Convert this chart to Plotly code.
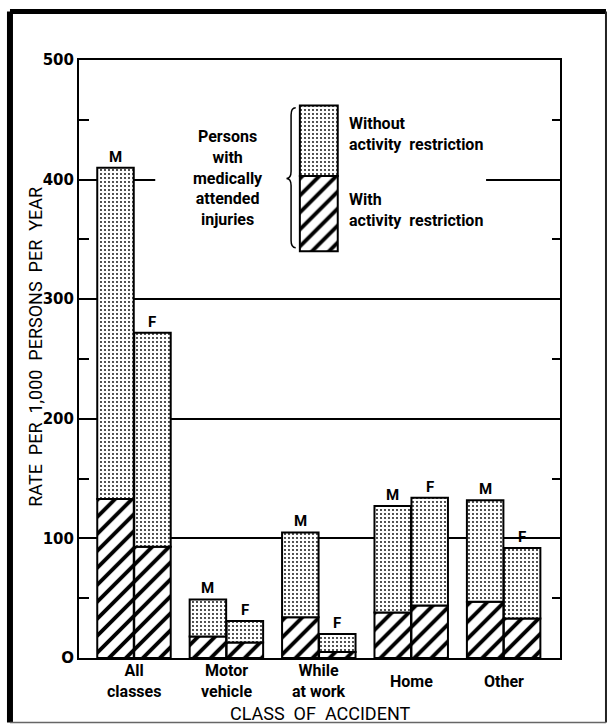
import plotly.graph_objects as go

# ---- data ----
categories = ["All<br>classes", "Motor<br>vehicle", "While<br>at work", "Home", "Other"]
male_total = [410, 49, 105, 127, 132]
male_with = [133, 18, 34, 38, 47]
female_total = [272, 31, 20, 134, 92]
female_with = [93, 13, 5, 44, 33]
sex_labels = ["M", "F"]
y_ticks = [0, 100, 200, 300, 400, 500]
y_tick_text = ["O", "100", "200", "300", "400", "500"]

FONT = "Roboto, Liberation Sans, DejaVu Sans, sans-serif"
BW = 0.395
OFF = 0.2

hatch = dict(shape="/", size=12, solidity=0.32, fgcolor="black", bgcolor="white", fillmode="replace")
dots = dict(shape=".", size=4, solidity=0.16, fgcolor="black", bgcolor="white", fillmode="replace")
outline = dict(color="black", width=2)

fig = go.Figure()
idx = list(range(len(categories)))
for sign, tot, wi, lab in [(-1, male_total, male_with, sex_labels[0]), (1, female_total, female_with, sex_labels[1])]:
    xs = [i + sign * OFF for i in idx]
    without = [t - w for t, w in zip(tot, wi)]
    fig.add_bar(x=xs, y=wi, base=[0] * len(wi), width=BW,
                marker=dict(color="white", pattern=hatch, line=outline), showlegend=False)
    fig.add_bar(x=xs, y=without, base=wi, width=BW,
                marker=dict(color="white", pattern=dots, line=outline), showlegend=False)
    for x, t in zip(xs, tot):
        fig.add_annotation(x=x, y=t, xref="x", yref="y", text=lab, showarrow=False,
                           yanchor="bottom", yshift=0,
                           font=dict(family=FONT, size=15, color="black", weight="bold"))

# legend swatches (drawn in plot space)
LEG_X, LEG_W = 2.0, 0.41
LEG_Y0, LEG_Y1, LEG_Y2 = 340, 403, 462
fig.add_bar(x=[LEG_X], y=[LEG_Y1 - LEG_Y0], base=[LEG_Y0], width=LEG_W,
            marker=dict(color="white", pattern=hatch, line=outline), showlegend=False)
fig.add_bar(x=[LEG_X], y=[LEG_Y2 - LEG_Y1], base=[LEG_Y1], width=LEG_W,
            marker=dict(color="white", pattern=dots, line=outline), showlegend=False)

# white patch hiding the 400 gridline behind the legend block
fig.add_shape(type="rect", xref="x", yref="y", x0=0.23, x1=3.81, y0=385, y1=415,
              fillcolor="white", line=dict(width=0), layer="between")

# curly brace
bx_r, bx_m, bx_l = 1.75, 1.70, 1.65
by_t, by_m, by_b = 460, 401, 343
d = 6
brace = (f"M {bx_r},{by_t} Q {bx_m},{by_t} {bx_m},{by_t-d} L {bx_m},{by_m+d} "
         f"Q {bx_m},{by_m} {bx_l},{by_m} Q {bx_m},{by_m} {bx_m},{by_m-d} "
         f"L {bx_m},{by_b+d} Q {bx_m},{by_b} {bx_r},{by_b}")
fig.add_shape(type="path", path=brace, xref="x", yref="y", line=dict(color="black", width=1.5))

lf = dict(family=FONT, size=16, color="black", weight="bold")
fig.add_annotation(x=1.02, y=401, xref="x", yref="y", showarrow=False, align="center",
                   text="Persons<br>with<br>medically<br>attended<br>injuries",
                   font=lf, yanchor="middle")
fig.add_annotation(x=2.31, y=438, xref="x", yref="y", showarrow=False, align="left",
                   xanchor="left", text="Without<br>activity  restriction", font=lf)
fig.add_annotation(x=2.31, y=375, xref="x", yref="y", showarrow=False, align="left",
                   xanchor="left", text="With<br>activity  restriction", font=lf)

# category labels
for i, c in zip(idx, categories):
    fig.add_annotation(x=i, y=0, xref="x", yref="paper", text=c, showarrow=False,
                       yanchor="middle", yshift=-23,
                       font=dict(family=FONT, size=16, color="black", weight="bold"))
fig.add_annotation(x=0.5, y=0, xref="paper", yref="paper", text="CLASS  OF  ACCIDENT",
                   showarrow=False, yanchor="middle", xanchor="center", yshift=-55,
                   font=dict(family=FONT, size=18, color="black"))
fig.add_annotation(x=-0.092, y=0.52, xref="paper", yref="paper",
                   text="RATE  PER  1,000  PERSONS  PER  YEAR", textangle=-90,
                   xanchor="center", yanchor="middle",
                   showarrow=False, font=dict(family=FONT, size=18, color="black"))

# outer frame
fl, fr, ft, fb = -0.1435, 1.0956, 1.081, -0.108
fig.add_shape(type="line", xref="paper", yref="paper", x0=fl, x1=fl, y0=fb, y1=ft, line=dict(color="black", width=6))
fig.add_shape(type="line", xref="paper", yref="paper", x0=fl, x1=fr, y0=ft, y1=ft, line=dict(color="black", width=5))
fig.add_shape(type="line", xref="paper", yref="paper", x0=fr, x1=fr, y0=fb, y1=ft, line=dict(color="#222", width=2))
fig.add_shape(type="line", xref="paper", yref="paper", x0=fl, x1=fr, y0=fb, y1=fb, line=dict(color="#666", width=1.5))

fig.update_layout(
    width=608, height=726, barmode="overlay",
    margin=dict(l=79, r=48, t=60, b=68),
    plot_bgcolor="white", paper_bgcolor="white",
    font=dict(family=FONT, color="black"),
    xaxis=dict(range=[-0.595, 4.61], showticklabels=False, ticks="", showgrid=False,
               zeroline=False, showline=True, linecolor="black", linewidth=2, mirror=True),
    yaxis=dict(range=[0, 500], tickvals=y_ticks, ticktext=y_tick_text, ticks="inside",
               ticklen=17, tickwidth=2, tickcolor="black", showgrid=True, gridcolor="black",
               gridwidth=1.5, zeroline=False, showline=True, linecolor="black", linewidth=2,
               mirror=True, tickfont=dict(family="DejaVu Sans", size=15, color="black", weight="bold"),
               minor=dict(dtick=50, ticks="inside", ticklen=10, tickwidth=2, tickcolor="black", showgrid=False)),
    yaxis2=dict(range=[0, 500], overlaying="y", side="right", showticklabels=False,
                ticks="inside", ticklen=8, tickwidth=2, tickcolor="black", dtick=50,
                showgrid=False, zeroline=False),
)
# invisible trace to activate right axis
fig.add_scatter(x=[0], y=[0], yaxis="y2", mode="markers", marker=dict(opacity=0),
                showlegend=False, hoverinfo="skip")

fig.write_html("out.html", config={"displayModeBar": False},
               post_script="document.body.style.margin='0';document.body.style.overflow='hidden';")
